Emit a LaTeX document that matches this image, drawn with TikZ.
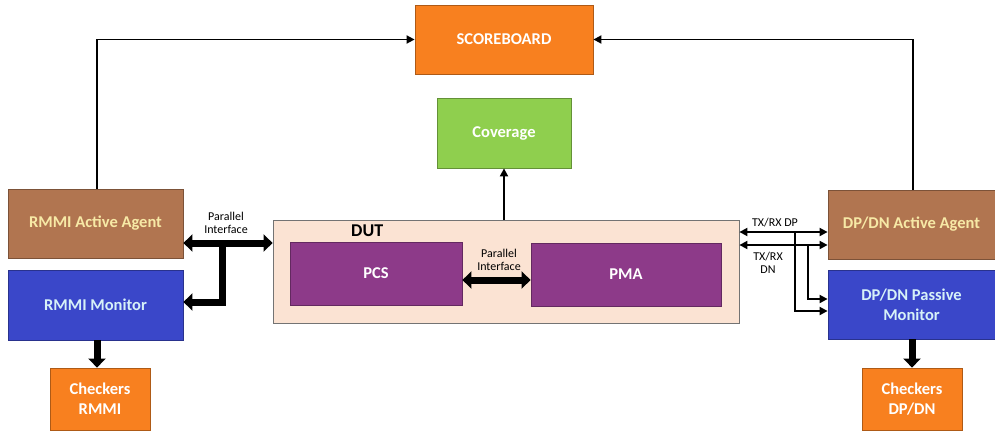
\documentclass[tikz,border=0pt]{standalone}
\usepackage{fontspec}
\setmainfont{Carlito}
\usetikzlibrary{arrows.meta}
\definecolor{orangeC}{HTML}{F8801F}
\definecolor{greenC}{HTML}{8FCF4E}
\definecolor{brownC}{HTML}{B17550}
\definecolor{blueC}{HTML}{3A47C9}
\definecolor{purpleC}{HTML}{8D3A89}
\definecolor{dutC}{HTML}{FBE3D3}
\definecolor{agentTxt}{HTML}{F7E9A6}
\definecolor{monTxt}{HTML}{D6F1F8}
\tikzset{
  blk/.style={draw=#1!70!black, line width=0.8pt, fill=#1, inner sep=0pt, font=\bfseries\fontsize{16.5}{20}\selectfont, align=center},
  thin/.style={line width=1.8pt, -{Triangle[length=8pt,width=8pt]}},
  thinboth/.style={line width=1.8pt, {Triangle[length=8pt,width=8pt]}-{Triangle[length=8pt,width=8pt]}},
  fat/.style={line width=7pt, -{Triangle[length=9pt,width=17pt]}},
  fatboth/.style={line width=7pt, {Triangle[length=9pt,width=17pt]}-{Triangle[length=9pt,width=17pt]}},
  small/.style={font=\fontsize{12}{13}\selectfont, align=center, inner sep=0pt},
}
\begin{document}
\begin{tikzpicture}[x=1pt,y=-1pt]
\useasboundingbox (0,0) rectangle (995,431);
% boxes
\node[blk=orangeC, text=white, minimum width=178pt, minimum height=69pt] (sb) at (504,39.5) {SCOREBOARD};
\node[blk=greenC, text=white, minimum width=134pt, minimum height=70pt] (cov) at (504,133) {Coverage};
\node[draw=black!55, line width=0.8pt, fill=dutC, minimum width=466pt, minimum height=103pt, inner sep=0pt] (dut) at (506,271.5) {};
\node[font=\bfseries\fontsize{18}{20}\selectfont, anchor=west, inner sep=0pt] (dutl) at (351,231) {DUT};
\node[blk=purpleC, text=white, minimum width=172pt, minimum height=63pt] (pcs) at (376,273.5) {PCS};
\node[blk=purpleC, text=white, minimum width=190pt, minimum height=63pt] (pma) at (626,274.5) {PMA};
\node[blk=brownC, text=agentTxt, minimum width=175pt, minimum height=69pt] (ra) at (95.5,223.5) {RMMI Active Agent};
\node[blk=blueC, text=monTxt, minimum width=175pt, minimum height=70pt] (rm) at (95.5,305) {RMMI Monitor};
\node[blk=orangeC, text=white, minimum width=100pt, minimum height=62pt] (rc) at (100,399) {Checkers\\RMMI};
\node[blk=brownC, text=agentTxt, minimum width=167pt, minimum height=69pt] (da) at (911.5,224.5) {DP/DN Active Agent};
\node[blk=blueC, text=monTxt, minimum width=167pt, minimum height=69pt] (dm) at (911.5,304.5) {DP/DN Passive\\Monitor};
\node[blk=orangeC, text=white, minimum width=100pt, minimum height=62pt] (dc) at (912,399) {Checkers\\DP/DN};
% scoreboard feeds
\draw[thin] (ra.north -| 97,0) |- (sb.west);
\draw[thin] (da.north -| 913,0) |- (sb.east);
% coverage
\draw[thin] (dut.north -| cov.south) -- (cov.south);
% RMMI parallel interface
\coordinate (lj) at (222,243);
\draw[fatboth] (ra.east |- lj) -- (dut.west |- lj);
\draw[fat] (lj) |- (rm.east |- 0,302);
\node[small] (pil) at (226,223) {Parallel\\Interface};
% PCS - PMA
\draw[fatboth] (pcs.east |- 0,280) -- (pma.west |- 0,280);
\node[small] (pim) at (499,260) {Parallel\\Interface};
% checkers
\draw[fat] (rm.south -| 97,0) -- (rc.north -| 97,0);
\draw[fat] (dm.south -| 912,0) -- (dc.north -| 912,0);
% DP / DN lines
\coordinate (dp) at (795,232);
\coordinate (dn) at (808,245);
\draw[thinboth] (dut.east |- dp) -- (da.west |- dp);
\draw[thinboth] (dut.east |- dn) -- (da.west |- dn);
\draw[thin] (dp) |- (dm.west |- 0,311);
\draw[thin] (dn) |- (dm.west |- 0,299);
\node[small] (dpl) at (775,223) {TX/RX DP};
\node[small] (dnl) at (768,263) {TX/RX\\DN};
\end{tikzpicture}
\end{document}
